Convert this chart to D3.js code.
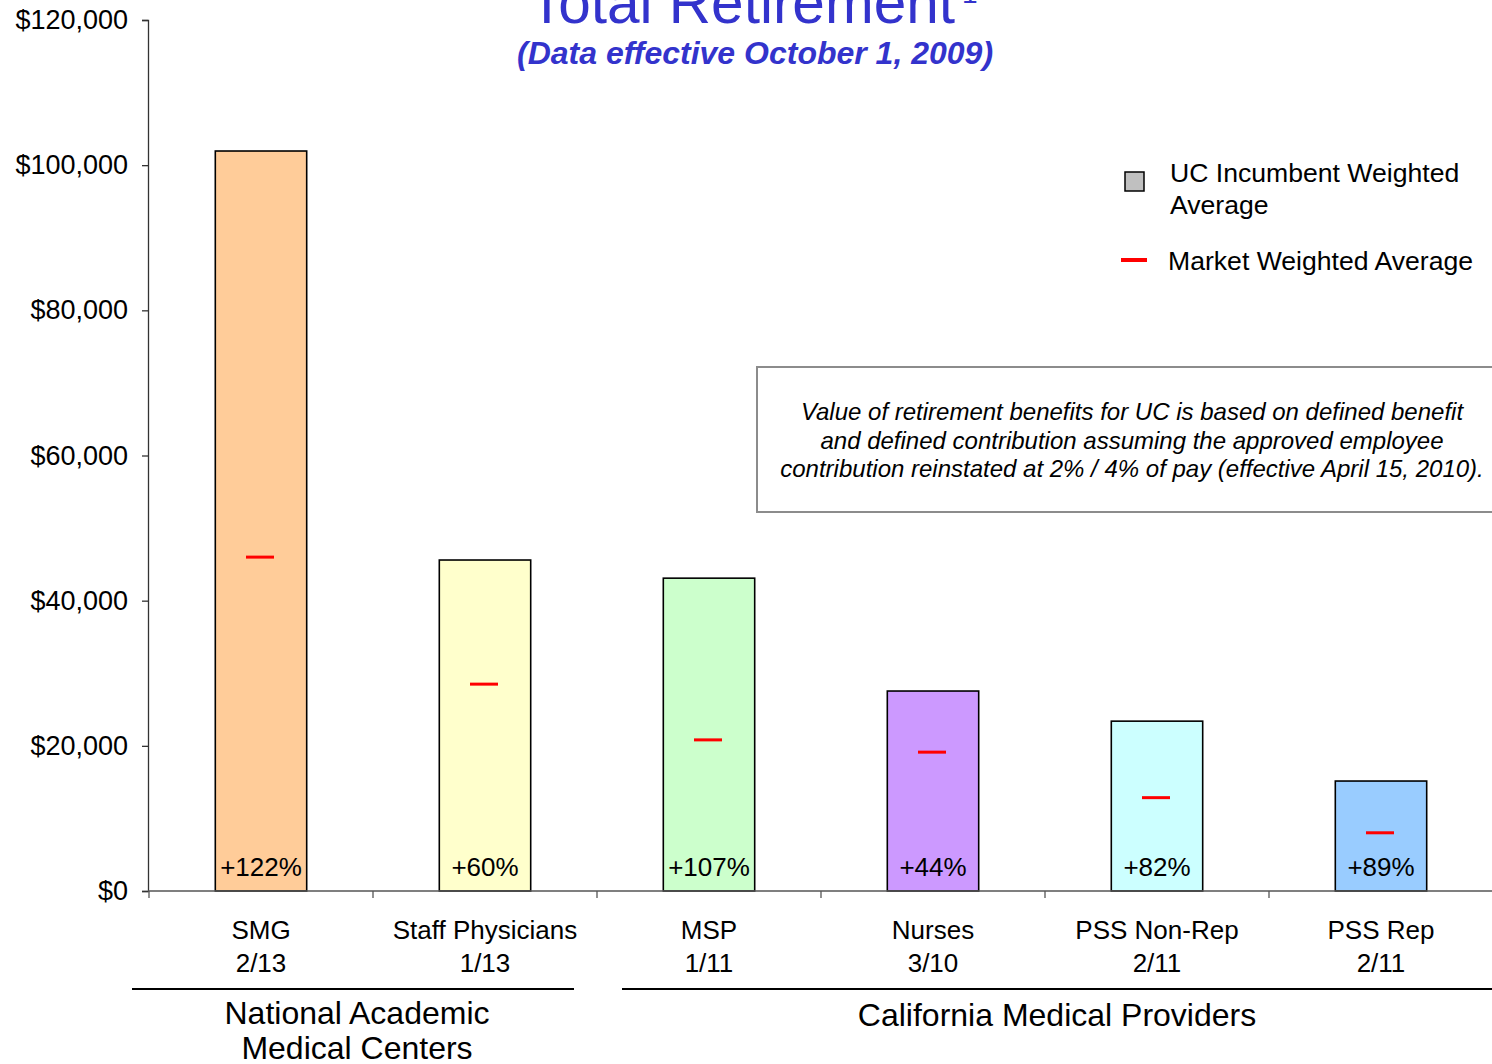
<!DOCTYPE html>
<html>
<head>
<meta charset="utf-8">
<script src="https://cdn.jsdelivr.net/npm/d3@7"></script>
<style>
  html, body { margin: 0; padding: 0; background: #fff; }
  svg { display: block; font-family: Arial, "Liberation Sans", sans-serif; }
</style>
</head>
<body>
<svg id="chart" width="1492" height="1064"></svg>
<script>
// Employee groups shown along the x axis
const categories = ["SMG", "Staff Physicians", "MSP", "Nurses", "PSS Non-Rep", "PSS Rep"];
const ratios = ["2/13", "1/13", "1/11", "3/10", "2/11", "2/11"];
// UC incumbent weighted average total retirement value ($)
const ucValues = [101950, 45600, 43100, 27550, 23400, 15150];
// Market weighted average total retirement value ($)
const marketValues = [46000, 28500, 20820, 19130, 12860, 8020];
const barColors = ["#FFCC99", "#FFFFCC", "#CCFFCC", "#CC99FF", "#CCFFFF", "#99CCFF"];
const yTicks = [0, 20000, 40000, 60000, 80000, 100000, 120000];
// Market groups spanning several categories
const groups = [
  { lines: ["National Academic", "Medical Centers"], first: 0, last: 1 },
  { lines: ["California Medical Providers"], first: 2, last: 5 }
];

const svg = d3.select("#chart");
const blue = "#3333CC";

const x = d3.scaleBand().domain(categories).range([148, 1492]).padding(0);
const y = d3.scaleLinear().domain([0, 120000]).range([891, 20]);
const barW = x.bandwidth() * 0.408;

// Titles
svg.append("text")
  .attr("x", 742).attr("y", 23)
  .attr("text-anchor", "middle")
  .attr("font-size", 58.5).attr("fill", blue)
  .text("Total Retirement");
svg.append("text")
  .attr("x", 962).attr("y", 3)
  .attr("font-size", 28).attr("fill", blue)
  .text("1");
svg.append("text")
  .attr("x", 755).attr("y", 64)
  .attr("text-anchor", "middle")
  .attr("font-size", 32).attr("font-weight", "bold").attr("font-style", "italic")
  .attr("fill", blue)
  .text("(Data effective October 1, 2009)");

// Y axis
const yAxis = svg.append("g")
  .attr("transform", "translate(148,0)")
  .call(d3.axisLeft(y).tickValues(yTicks).tickSize(6).tickPadding(14).tickFormat(d3.format("$,")));
yAxis.select(".domain").attr("stroke", "#333").attr("stroke-width", 1.3);
yAxis.selectAll(".tick line").attr("stroke", "#333").attr("stroke-width", 1.3);
yAxis.selectAll(".tick text")
  .attr("font-size", 27).attr("fill", "#000")
  .attr("font-family", "Arial, 'Liberation Sans', sans-serif");

// Bars
svg.append("g").selectAll("rect")
  .data(categories)
  .join("rect")
  .attr("x", (d) => x(d) + (x.bandwidth() - barW) / 2 + 1)
  .attr("y", (d, i) => y(ucValues[i]))
  .attr("width", barW)
  .attr("height", (d, i) => y(0) - y(ucValues[i]))
  .attr("fill", (d, i) => barColors[i])
  .attr("stroke", "#000")
  .attr("stroke-width", 1.6);

// Market average markers
svg.append("g").selectAll("line")
  .data(categories)
  .join("line")
  .attr("x1", (d) => x(d) + x.bandwidth() / 2 - 14)
  .attr("x2", (d) => x(d) + x.bandwidth() / 2 + 14)
  .attr("y1", (d, i) => y(marketValues[i]))
  .attr("y2", (d, i) => y(marketValues[i]))
  .attr("stroke", "#FF0000")
  .attr("stroke-width", 3);

// Percent above market
svg.append("g").selectAll("text")
  .data(categories)
  .join("text")
  .attr("x", (d) => x(d) + x.bandwidth() / 2 + 1)
  .attr("y", 876)
  .attr("text-anchor", "middle")
  .attr("font-size", 26)
  .text((d, i) => "+" + Math.round((ucValues[i] / marketValues[i] - 1) * 100) + "%");

// X axis with ticks at category boundaries
const xAxis = svg.append("g");
xAxis.append("line")
  .attr("x1", 148).attr("x2", 1492)
  .attr("y1", y(0)).attr("y2", y(0))
  .attr("stroke", "#555").attr("stroke-width", 1.6);
xAxis.selectAll("line.tick")
  .data(categories.map((d) => x(d)).concat([x.range()[1]]))
  .join("line")
  .attr("class", "tick")
  .attr("x1", (d) => d + 1).attr("x2", (d) => d + 1)
  .attr("y1", y(0)).attr("y2", y(0) + 7)
  .attr("stroke", "#555").attr("stroke-width", 1.3);

// Category labels
const cat = svg.append("g").selectAll("text")
  .data(categories)
  .join("text")
  .attr("text-anchor", "middle")
  .attr("font-size", 26);
cat.append("tspan")
  .attr("x", (d) => x(d) + x.bandwidth() / 2 + 1)
  .attr("y", 939)
  .text((d) => d);
cat.append("tspan")
  .attr("x", (d) => x(d) + x.bandwidth() / 2 + 1)
  .attr("y", 972)
  .text((d, i) => ratios[i]);

// Group brackets
const groupSpans = [[132, 574], [622, 1492]];
const groupCenters = [357, 1057];
groups.forEach((g, gi) => {
  svg.append("line")
    .attr("x1", groupSpans[gi][0]).attr("x2", groupSpans[gi][1])
    .attr("y1", 989).attr("y2", 989)
    .attr("stroke", "#000").attr("stroke-width", 2);
  const t = svg.append("text")
    .attr("text-anchor", "middle")
    .attr("font-size", 32);
  g.lines.forEach((ln, li) => {
    t.append("tspan")
      .attr("x", groupCenters[gi])
      .attr("y", (g.lines.length > 1 ? 1024 : 1026) + li * 35)
      .text(ln);
  });
});

// Legend
const legend = svg.append("g");
legend.append("rect")
  .attr("x", 1125).attr("y", 172).attr("width", 19).attr("height", 19)
  .attr("fill", "#C0C0C0").attr("stroke", "#000").attr("stroke-width", 1.5);
const l1 = legend.append("text").attr("font-size", 26.6);
l1.append("tspan").attr("x", 1170).attr("y", 182).text("UC Incumbent Weighted");
l1.append("tspan").attr("x", 1170).attr("y", 214).text("Average");
legend.append("line")
  .attr("x1", 1121).attr("x2", 1147).attr("y1", 260).attr("y2", 260)
  .attr("stroke", "#FF0000").attr("stroke-width", 4);
legend.append("text")
  .attr("x", 1168).attr("y", 270)
  .attr("font-size", 26.6)
  .text("Market Weighted Average");

// Methodology note
const noteLines = [
  "Value of retirement benefits for UC is based on defined benefit",
  "and defined contribution assuming the approved employee",
  "contribution reinstated at 2% / 4% of pay (effective April 15, 2010)."
];
svg.append("rect")
  .attr("x", 757).attr("y", 367).attr("width", 760).attr("height", 145)
  .attr("fill", "#fff").attr("stroke", "#8C8C8C").attr("stroke-width", 2);
const note = svg.append("text")
  .attr("text-anchor", "middle")
  .attr("font-size", 24).attr("font-style", "italic");
noteLines.forEach((ln, i) => {
  note.append("tspan").attr("x", 1132).attr("y", 420 + i * 28.7).text(ln);
});
</script>
</body>
</html>
